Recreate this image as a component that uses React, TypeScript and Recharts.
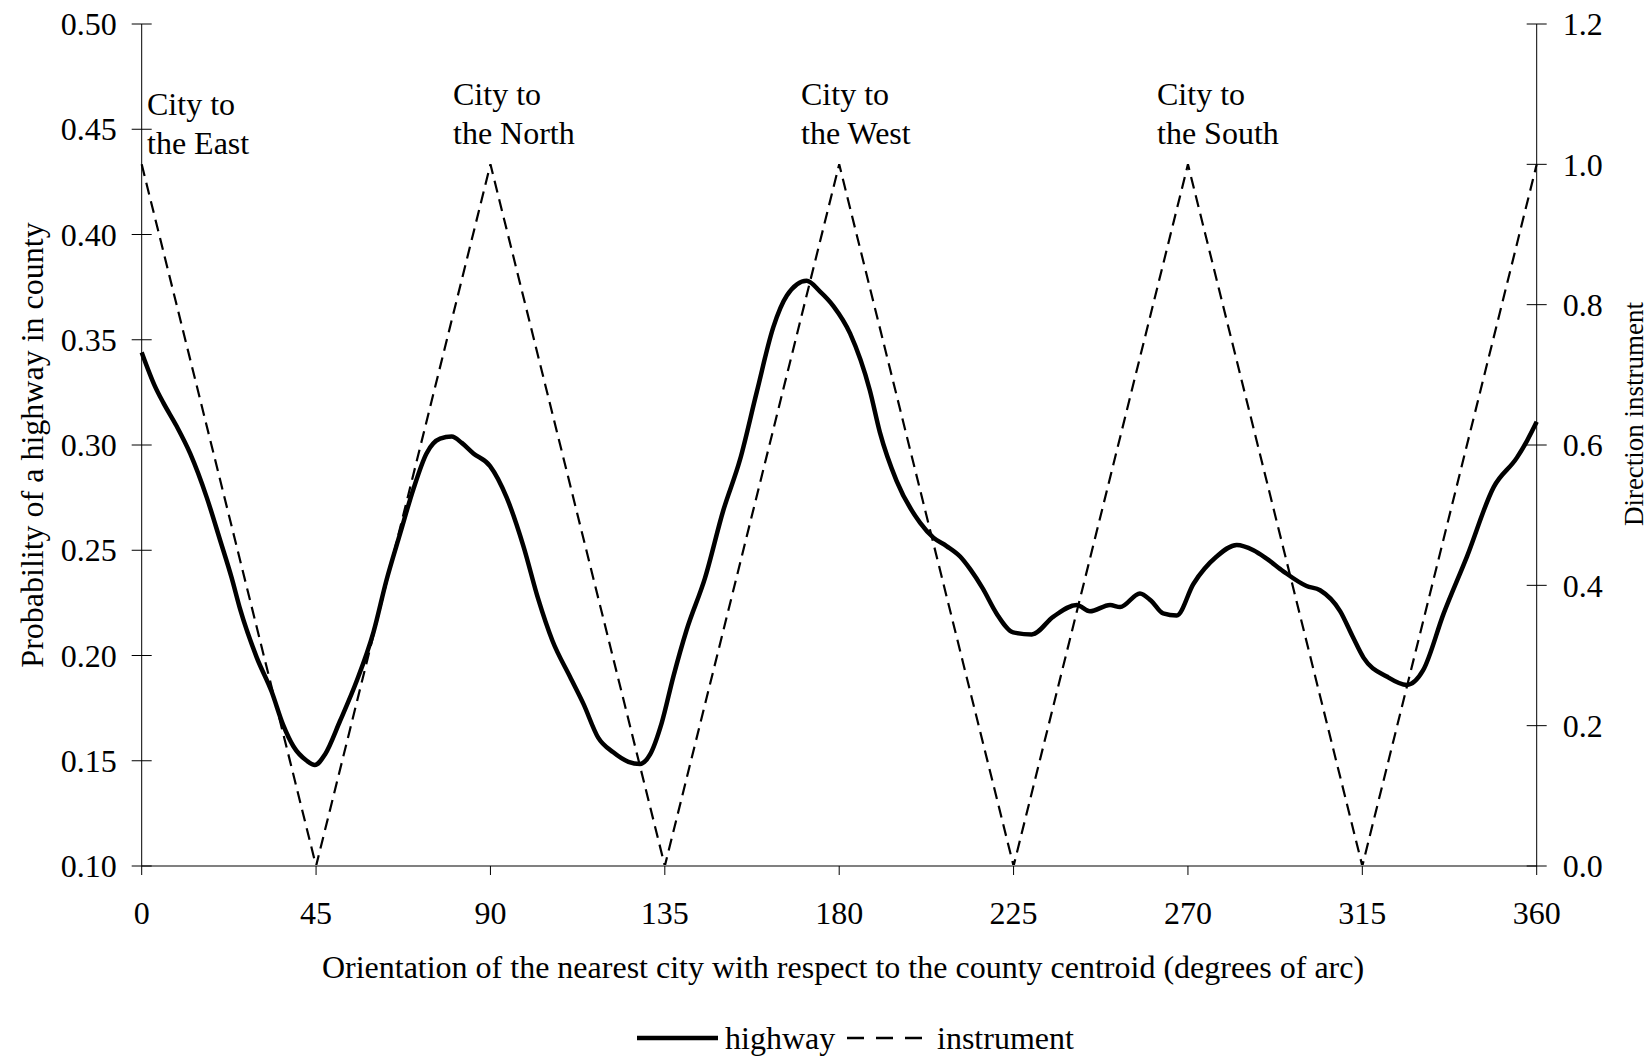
import React from 'react';
import { LineChart, Line, XAxis, YAxis, Legend, Customized } from 'recharts';

const FONT = '"Liberation Serif", "Times New Roman", Times, serif';
const FS = 32;

// ---- data ----
const highwayDegrees = [
  0, 3.4, 5.6, 9.0, 12.5, 16.8, 20.2, 23.2, 25.4, 29.7, 33.5, 36.5, 39.1, 42.6, 44.7,
  47.3, 51.2, 55.5, 59.8, 63.2, 66.7, 70.1, 73.5, 77.0, 80.0, 82.6, 85.6, 89.9, 94.2,
  98.5, 102.3, 106.0, 110.5, 114.0, 117.8, 121.7, 125.6, 128.6, 131.2, 134.2, 137.2,
  140.6, 145.4, 150.1, 154.4, 158.7, 163.0, 166.5, 171.6, 175.0, 178.5, 182.8, 187.9,
  190.5, 194.8, 200.9, 204.3, 207.7, 211.2, 213.8, 217.0, 220.6, 224.9, 229.7, 235.3,
  241.3, 244.7, 249.9, 252.5, 257.6, 260.5, 263.6, 267.1, 271.4, 277.4, 282.6, 286.9,
  290.3, 294.6, 300.6, 304.1, 309.3, 312.5, 315.3, 321.3, 326.5, 330.7, 336.0, 342.0,
  348.9, 354.9, 357.5, 360,
];
const highwayValues = [
  0.344, 0.328, 0.320, 0.309, 0.296, 0.275, 0.255, 0.237, 0.222, 0.199, 0.183, 0.167, 0.157, 0.150, 0.148,
  0.153, 0.169, 0.188, 0.211, 0.236, 0.258, 0.279, 0.296, 0.303, 0.304, 0.301, 0.296, 0.290, 0.275,
  0.252, 0.227, 0.207, 0.190, 0.177, 0.161, 0.154, 0.1495, 0.1485, 0.153, 0.168, 0.190,
  0.212, 0.237, 0.269, 0.293, 0.325, 0.356, 0.371, 0.378, 0.373, 0.366, 0.353, 0.326,
  0.306, 0.283, 0.263, 0.256, 0.252, 0.247, 0.241, 0.232, 0.220, 0.211, 0.210, 0.2185,
  0.224, 0.221, 0.224, 0.223, 0.2295, 0.226, 0.220, 0.219, 0.234, 0.247, 0.2525, 0.250,
  0.246, 0.240, 0.233, 0.231, 0.221, 0.209, 0.199, 0.190, 0.186, 0.193, 0.220, 0.247,
  0.280, 0.294, 0.302, 0.311,
];
const instrumentDegrees = [0, 45, 90, 135, 180, 225, 270, 315, 360];
const instrumentValues = [1, 0, 1, 0, 1, 0, 1, 0, 1];

const xTicks = [0, 45, 90, 135, 180, 225, 270, 315, 360];
const leftTicks = [0.1, 0.15, 0.2, 0.25, 0.3, 0.35, 0.4, 0.45, 0.5];
const rightTicks = [0, 0.2, 0.4, 0.6, 0.8, 1.0, 1.2];

const annotationLines = [
  ['City to', 'the East'],
  ['City to', 'the North'],
  ['City to', 'the West'],
  ['City to', 'the South'],
];

const highwayData = highwayDegrees.map((d, i) => ({ deg: d, value: highwayValues[i] }));
const instrumentData = instrumentDegrees.map((d, i) => ({ deg: d, value: instrumentValues[i] }));

// ---- layout ----
const W = 1652;
const H = 1056;
const PLOT_TOP = 24;
const LEFT_W = 141.7;
const RIGHT_W = 115.3;
const X_H = 190;

const annotationPos = [
  { x: 147, y1: 115, y2: 154 },
  { x: 453, y1: 105, y2: 144 },
  { x: 801, y1: 105, y2: 144 },
  { x: 1157, y1: 105, y2: 144 },
];

const LeftTick = (props: any) => {
  const { x, y, payload } = props;
  const ax = x + 25;
  return (
    <g>
      <line x1={ax - 10} x2={ax + 10} y1={y} y2={y} stroke="#000" strokeWidth={1} />
      <text x={x} y={y} dy="0.35em" textAnchor="end" fontFamily={FONT} fontSize={FS} fill="#000">
        {Number(payload.value).toFixed(2)}
      </text>
    </g>
  );
};

const RightTick = (props: any) => {
  const { x, y, payload } = props;
  const ax = x - 26;
  return (
    <g>
      <line x1={ax - 10} x2={ax + 10} y1={y} y2={y} stroke="#000" strokeWidth={1} />
      <text x={x} y={y} dy="0.35em" textAnchor="start" fontFamily={FONT} fontSize={FS} fill="#000">
        {Number(payload.value).toFixed(1)}
      </text>
    </g>
  );
};

const BottomTick = (props: any) => {
  const { x, y, payload } = props;
  const ay = y - 9;
  return (
    <g>
      <line x1={x} x2={x} y1={ay} y2={ay + 9} stroke="#000" strokeWidth={1} />
      <text x={x} y={ay + 47} dy="0.35em" textAnchor="middle" fontFamily={FONT} fontSize={FS} fill="#000">
        {payload.value}
      </text>
    </g>
  );
};

const LegendContent = () => (
  <svg width={W} height={40} style={{ display: 'block' }}>
    <line x1={637} x2={718} y1={20} y2={20} stroke="#000" strokeWidth={4.5} />
    <text x={725} y={20} dy="0.35em" fontFamily={FONT} fontSize={FS} fill="#000">highway</text>
    <line x1={847} x2={922} y1={20} y2={20} stroke="#000" strokeWidth={2.5} strokeDasharray="17 12" />
    <text x={937} y={20} dy="0.35em" fontFamily={FONT} fontSize={FS} fill="#000">instrument</text>
  </svg>
);

const Annotations = () => (
  <g>
    {annotationLines.map((lines, i) => (
      <text key={i} fontFamily={FONT} fontSize={FS} fill="#000">
        <tspan x={annotationPos[i].x} y={annotationPos[i].y1}>{lines[0]}</tspan>
        <tspan x={annotationPos[i].x} y={annotationPos[i].y2}>{lines[1]}</tspan>
      </text>
    ))}
  </g>
);

export default function App() {
  return (
    <div style={{ position: 'absolute', left: 0, top: 0, width: W, height: H, background: '#fff' }}>
      <LineChart width={W} height={H} margin={{ top: PLOT_TOP, right: 0, bottom: 0, left: 0 }}>
        <XAxis
          dataKey="deg"
          type="number"
          domain={[0, 360]}
          ticks={xTicks}
          interval={0}
          height={X_H}
          tickSize={9}
          tickMargin={0}
          tickLine={false}
          tick={<BottomTick />}
          stroke="#808080"
          strokeWidth={2}
          allowDuplicatedCategory={false}
          label={{
            content: (p: any) => {
              const vb = p.viewBox;
              return (
                <text x={843} y={vb.y + 101} dy="0.35em" textAnchor="middle" fontFamily={FONT} fontSize={FS} fill="#000">
                  Orientation of the nearest city with respect to the county centroid (degrees of arc)
                </text>
              );
            },
          }}
        />
        <YAxis
          yAxisId="left"
          orientation="left"
          domain={[0.1, 0.5]}
          ticks={leftTicks}
          interval={0}
          width={LEFT_W}
          tickSize={10}
          tickMargin={15}
          tickLine={false}
          tick={<LeftTick />}
          stroke="#000"
          allowDataOverflow
          label={{
            content: (p: any) => {
              const vb = p.viewBox;
              const cx = 32;
              const cy = vb.y + vb.height / 2;
              return (
                <text x={cx} y={cy} dy="0.35em" textAnchor="middle" transform={`rotate(-90 ${cx} ${cy})`} fontFamily={FONT} fontSize={FS} fill="#000">
                  Probability of a highway in county
                </text>
              );
            },
          }}
        />
        <YAxis
          yAxisId="right"
          orientation="right"
          domain={[0, 1.2]}
          ticks={rightTicks}
          interval={0}
          width={RIGHT_W}
          tickSize={10}
          tickMargin={16}
          tickLine={false}
          tick={<RightTick />}
          stroke="#000"
          allowDataOverflow
          label={{
            content: (p: any) => {
              const vb = p.viewBox;
              const cx = vb.x + 97;
              const cy = 414;
              return (
                <text x={cx} y={cy} dy="0.35em" textAnchor="middle" transform={`rotate(-90 ${cx} ${cy})`} fontFamily={FONT} fontSize={27} fill="#000">
                  Direction instrument
                </text>
              );
            },
          }}
        />
        <Line
          yAxisId="right"
          data={instrumentData}
          dataKey="value"
          name="instrument"
          type="linear"
          stroke="#000"
          strokeWidth={2.2}
          strokeDasharray="12 7"
          dot={false}
          isAnimationActive={false}
        />
        <Line
          yAxisId="left"
          data={highwayData}
          dataKey="value"
          name="highway"
          type="monotone"
          stroke="#000"
          strokeWidth={4.5}
          dot={false}
          isAnimationActive={false}
        />
        <Customized component={Annotations} />
        <Legend
          layout="horizontal"
          verticalAlign="middle"
          align="center"
          content={<LegendContent />}
          wrapperStyle={{ position: 'absolute', left: 0, top: 1018, width: W, height: 40, margin: 0, padding: 0 }}
        />
      </LineChart>
    </div>
  );
}
